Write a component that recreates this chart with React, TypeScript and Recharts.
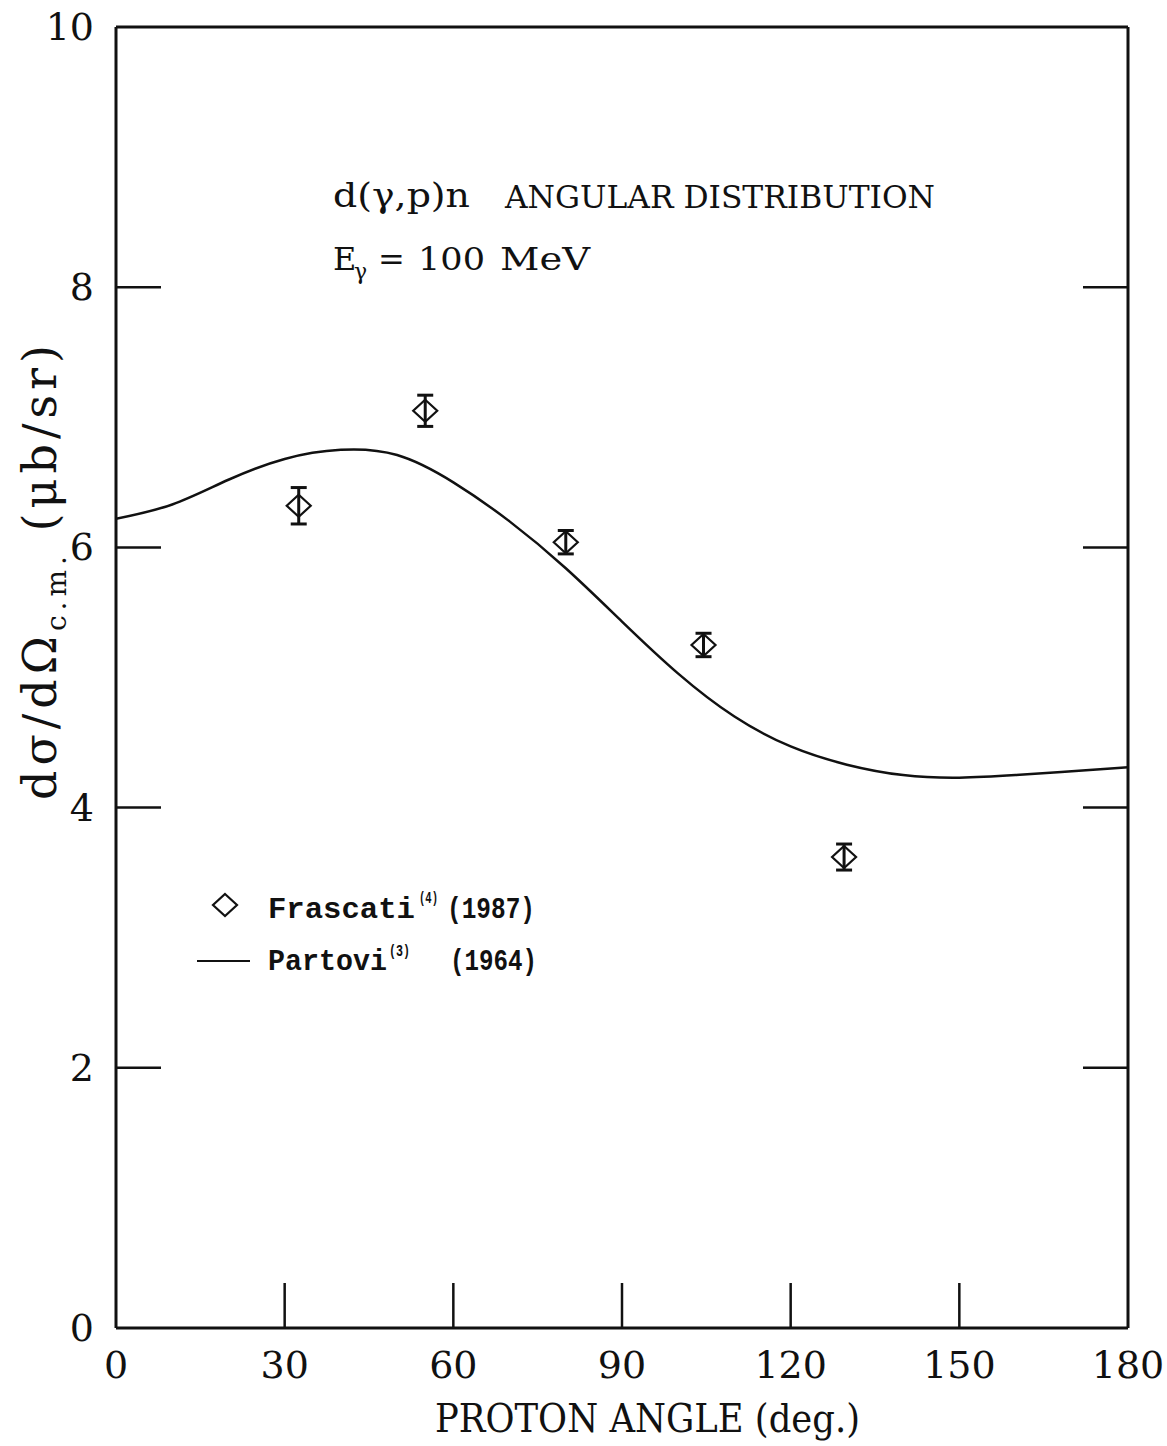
import React from "react";
import { ComposedChart, Line, Scatter, ErrorBar, XAxis, YAxis } from "recharts";

const angleTicks = [0, 30, 60, 90, 120, 150, 180];
const valueTicks = [0, 2, 4, 6, 8, 10];

// Partovi (1964) calculation
const partoviAngle = [0, 10, 20, 30, 40, 50, 60, 70, 80, 90, 100, 110, 120, 130, 140, 150, 160, 170, 180];
const partoviValue = [6.22, 6.33, 6.52, 6.68, 6.75, 6.71, 6.5, 6.2, 5.84, 5.43, 5.03, 4.7, 4.47, 4.33, 4.25, 4.23, 4.25, 4.28, 4.31];

// Frascati (1987) points with symmetric errors
const frascatiAngle = [32.5, 55, 80, 104.5, 129.5];
const frascatiValue = [6.32, 7.05, 6.04, 5.25, 3.62];
const frascatiError = [0.14, 0.12, 0.09, 0.09, 0.1];

const partovi = partoviAngle.map((angle, i) => ({ angle, value: partoviValue[i] }));
const frascati = frascatiAngle.map((angle, i) => ({
  angle,
  value: frascatiValue[i],
  err: frascatiError[i],
}));

const W = 1167;
const H = 1446;
// axes get 1px of room each, so the plot box lands on 116..1128 x 27..1328
const MARGIN = { top: 26, right: 38, bottom: 117, left: 115 };
const TICK_LEN = 45;
const SERIF = "'DejaVu Serif', serif";
const MONO = "'Liberation Mono', monospace";
const INK = "#111";

const inner = (v: number, lo: number, hi: number) => v !== lo && v !== hi;

function BottomTick({ x, y, payload }: any) {
  const v = payload.value;
  return (
    <g>
      {inner(v, 0, 180) && (
        <line x1={x} y1={y} x2={x} y2={y - TICK_LEN} stroke={INK} strokeWidth={2.5} />
      )}
      <text x={x} y={y + 50} textAnchor="middle" fontFamily={SERIF} fontSize={38} fill={INK}>
        {v}
      </text>
    </g>
  );
}

function TopTick({ x, y, payload }: any) {
  if (!inner(payload.value, 0, 180)) return <g />;
  return <line x1={x} y1={y} x2={x} y2={y + TICK_LEN} stroke={INK} strokeWidth={2.5} />;
}

function LeftTick({ x, y, payload }: any) {
  const v = payload.value;
  return (
    <g>
      {inner(v, 0, 10) && (
        <line x1={x} y1={y} x2={x + TICK_LEN} y2={y} stroke={INK} strokeWidth={2.5} />
      )}
      <text x={x - 22} y={y + 13} textAnchor="end" fontFamily={SERIF} fontSize={38} fill={INK}>
        {v}
      </text>
    </g>
  );
}

function RightTick({ x, y, payload }: any) {
  if (!inner(payload.value, 0, 10)) return <g />;
  return <line x1={x} y1={y} x2={x - TICK_LEN} y2={y} stroke={INK} strokeWidth={2.5} />;
}

function Diamond({ cx, cy }: any) {
  return (
    <path
      d={`M${cx},${cy - 11} L${cx + 12},${cy} L${cx},${cy + 11} L${cx - 12},${cy} Z`}
      fill="none"
      stroke={INK}
      strokeWidth={2.2}
    />
  );
}

function Labels() {
  return (
    <svg
      width={W}
      height={H}
      style={{ position: "absolute", left: 0, top: 0, pointerEvents: "none" }}
    >
      <g fill={INK} fontFamily={SERIF}>
        {/* panel title */}
        <text x={333} y={207} fontSize={34} textLength={137} lengthAdjust="spacingAndGlyphs">
          d(γ,p)n
        </text>
        <text x={505} y={208} fontSize={32} textLength={430} lengthAdjust="spacingAndGlyphs">
          ANGULAR DISTRIBUTION
        </text>
        <text x={333} y={270} fontSize={32}>E</text>
        <text x={354} y={279} fontSize={22}>γ</text>
        <text x={378} y={270} fontSize={32}>=</text>
        <text x={418} y={270} fontSize={32} textLength={67} lengthAdjust="spacingAndGlyphs">100</text>
        <text x={500} y={270} fontSize={32} textLength={90} lengthAdjust="spacingAndGlyphs">MeV</text>

        {/* axis titles */}
        <text x={435} y={1432} fontSize={40} textLength={425} lengthAdjust="spacingAndGlyphs">
          PROTON ANGLE (deg.)
        </text>
        <text
          transform="translate(56, 800) rotate(-90)"
          x={0}
          y={0}
          fontSize={46}
          textLength={455}
          lengthAdjust="spacing"
        >
          dσ/dΩ
          <tspan fontSize={28} dy={10}>c.m.</tspan>
          <tspan fontSize={46} dy={-10}> (μb/sr)</tspan>
        </text>
      </g>

      {/* legend */}
      <g fill={INK} fontFamily={MONO} fontWeight="bold">
        <Diamond cx={225} cy={905} />
        <text x={268} y={918} fontSize={29} textLength={147} lengthAdjust="spacingAndGlyphs">Frascati</text>
        <text x={419} y={903} fontSize={16} textLength={19} lengthAdjust="spacingAndGlyphs">(4)</text>
        <text x={447} y={918} fontSize={29} textLength={88} lengthAdjust="spacingAndGlyphs">(1987)</text>
        <line x1={197} y1={961} x2={250} y2={961} stroke={INK} strokeWidth={2.2} />
        <text x={268} y={970} fontSize={29} textLength={119} lengthAdjust="spacingAndGlyphs">Partovi</text>
        <text x={389} y={956} fontSize={16} textLength={21} lengthAdjust="spacingAndGlyphs">(3)</text>
        <text x={450} y={970} fontSize={29} textLength={87} lengthAdjust="spacingAndGlyphs">(1964)</text>
      </g>
    </svg>
  );
}

export default function App() {
  return (
    <div style={{ position: "relative", width: W, height: H, background: "#fff" }}>
      <style>{"body{margin:0;background:#fff}"}</style>
      <ComposedChart width={W} height={H} margin={MARGIN}>
        <XAxis
          xAxisId="bottom"
          dataKey="angle"
          type="number"
          domain={[0, 180]}
          ticks={angleTicks}
          height={1}
          tickSize={0}
          tickMargin={0}
          tick={<BottomTick />}
          axisLine={{ stroke: INK, strokeWidth: 3 }}
          interval={0}
          allowDataOverflow
        />
        <XAxis
          xAxisId="top"
          orientation="top"
          type="number"
          domain={[0, 180]}
          ticks={angleTicks}
          height={1}
          tickSize={0}
          tickMargin={0}
          tick={<TopTick />}
          axisLine={{ stroke: INK, strokeWidth: 3 }}
          interval={0}
          allowDataOverflow
        />
        <YAxis
          yAxisId="left"
          type="number"
          domain={[0, 10]}
          ticks={valueTicks}
          width={1}
          tickSize={0}
          tickMargin={0}
          tick={<LeftTick />}
          axisLine={{ stroke: INK, strokeWidth: 3 }}
          interval={0}
          allowDataOverflow
        />
        <YAxis
          yAxisId="right"
          orientation="right"
          type="number"
          domain={[0, 10]}
          ticks={valueTicks}
          width={1}
          tickSize={0}
          tickMargin={0}
          tick={<RightTick />}
          axisLine={{ stroke: INK, strokeWidth: 3 }}
          interval={0}
          allowDataOverflow
        />
        <Line
          xAxisId="bottom"
          yAxisId="left"
          data={partovi}
          dataKey="value"
          type="natural"
          stroke={INK}
          strokeWidth={2.5}
          dot={false}
          activeDot={false}
          isAnimationActive={false}
        />
        <Scatter
          xAxisId="bottom"
          yAxisId="left"
          data={frascati}
          dataKey="value"
          shape={(p: any) => <Diamond cx={p.cx} cy={p.cy} />}
          isAnimationActive={false}
        >
          <ErrorBar dataKey="err" direction="y" width={8} stroke={INK} strokeWidth={3} />
        </Scatter>
      </ComposedChart>
      <Labels />
    </div>
  );
}
